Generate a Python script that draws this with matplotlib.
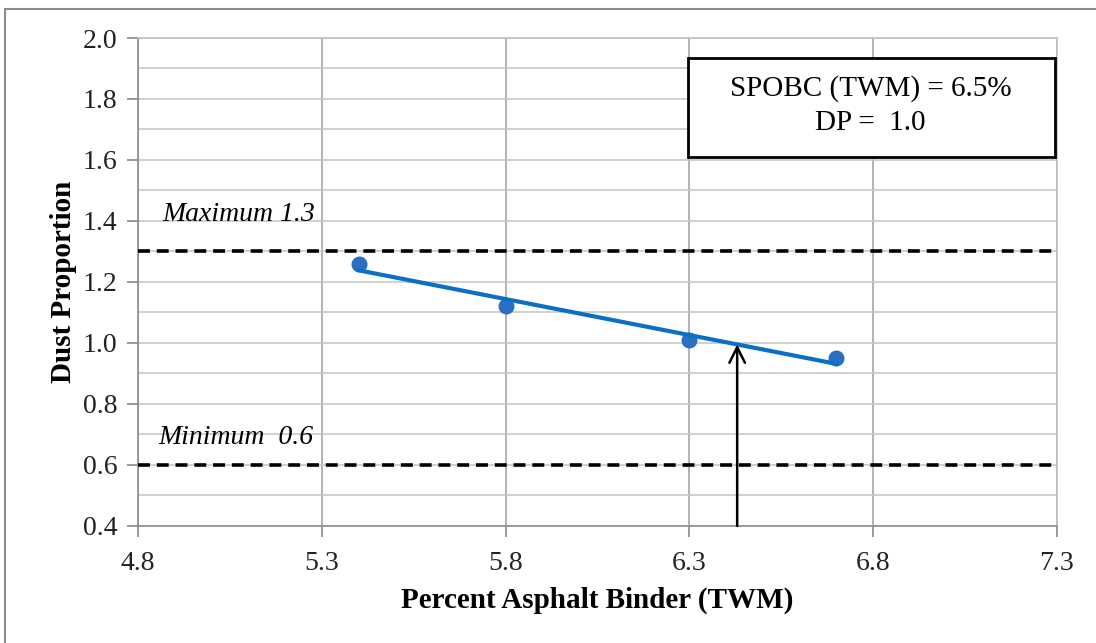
import numpy as np
import matplotlib.pyplot as plt
from matplotlib.patches import Rectangle

# data
binder = [5.4, 5.8, 6.3, 6.7]
dust_prop = [1.26, 1.12, 1.01, 0.95]
dp_max = 1.3
dp_min = 0.6
spobc_x = 6.43

plt.rcParams['font.family'] = ['Liberation Serif', 'DejaVu Serif']

fig = plt.figure(figsize=(10.96, 6.43), dpi=100)
ax = fig.add_axes([0.1259, 0.1820, 0.8385, 0.7589])

# outer frame of the original chart area (only left/top visible)
fig.patches.append(Rectangle((5 / 1096, -0.1), 1.2, 1 - 9 / 643 + 0.1,
                             transform=fig.transFigure, fill=False,
                             edgecolor='#8c8c8c', lw=1.5))

ax.set_xlim(4.8, 7.3)
ax.set_ylim(0.4, 2.0)
ax.set_xticks(np.arange(4.8, 7.31, 0.5))
ax.set_yticks(np.arange(0.4, 2.01, 0.2))
ax.set_yticks(np.arange(0.5, 2.0, 0.2), minor=True)
ax.set_xticklabels(['%.1f' % v for v in np.arange(4.8, 7.31, 0.5)])
ax.set_yticklabels(['%.1f' % v for v in np.arange(0.4, 2.01, 0.2)])
ax.tick_params(axis='both', which='major', labelsize=20, colors='#888888',
               labelcolor='#222222', length=8, width=1.2)
ax.tick_params(axis='y', which='minor', length=0)
ax.tick_params(axis='x', pad=10)
ax.tick_params(axis='y', pad=7)

ax.grid(True, axis='x', color='#a6a6a6', lw=1.2)
ax.grid(True, axis='y', which='both', color='#c8c8c8', lw=1.2)
ax.set_axisbelow(True)
for s in ['top', 'right']:
    ax.spines[s].set_color('#c0c0c0')
    ax.spines[s].set_linewidth(1.2)
for s in ['left', 'bottom']:
    ax.spines[s].set_color('#8c8c8c')
    ax.spines[s].set_linewidth(1.2)

# limits
ax.axhline(dp_max, color='black', lw=2.6, ls=(0, (3.3, 1.9)), zorder=3)
ax.axhline(dp_min, color='black', lw=2.6, ls=(0, (3.3, 1.9)), zorder=3)
ax.text(4.865, 1.42, 'Maximum 1.3', style='italic', fontsize=20, va='center')
ax.text(4.855, 0.69, 'Minimum  0.6', style='italic', fontsize=20, va='center')

# points and linear trend
ax.plot(binder, dust_prop, 'o', color='#2a6fc4', ms=10.5, zorder=4)
k, b = np.polyfit(binder, dust_prop, 1)
xs = np.array([binder[0], binder[-1]])
ax.plot(xs, k * xs + b, color='#0b6fc6', lw=3, zorder=4)

# arrow up to the trend line
ax.annotate('', xy=(spobc_x, k * spobc_x + b), xytext=(spobc_x, 0.4),
            arrowprops=dict(arrowstyle='->', color='black', lw=1.8,
                            mutation_scale=28, shrinkA=0, shrinkB=0),
            zorder=5)

ax.add_patch(Rectangle((6.295, 1.61), 7.295 - 6.295, 1.934 - 1.61,
                       facecolor='white', edgecolor='black', lw=2, zorder=5))
ax.text(6.793, 1.78, 'SPOBC (TWM) = 6.5%\nDP =  1.0', fontsize=21,
        ha='center', va='center', linespacing=1.4, zorder=6)

ax.set_xlabel('Percent Asphalt Binder (TWM)', fontsize=21, fontweight='bold',
              labelpad=8)
ax.set_ylabel('Dust Proportion', fontsize=21, fontweight='bold', labelpad=4)

fig.savefig('out.png', dpi=100)
